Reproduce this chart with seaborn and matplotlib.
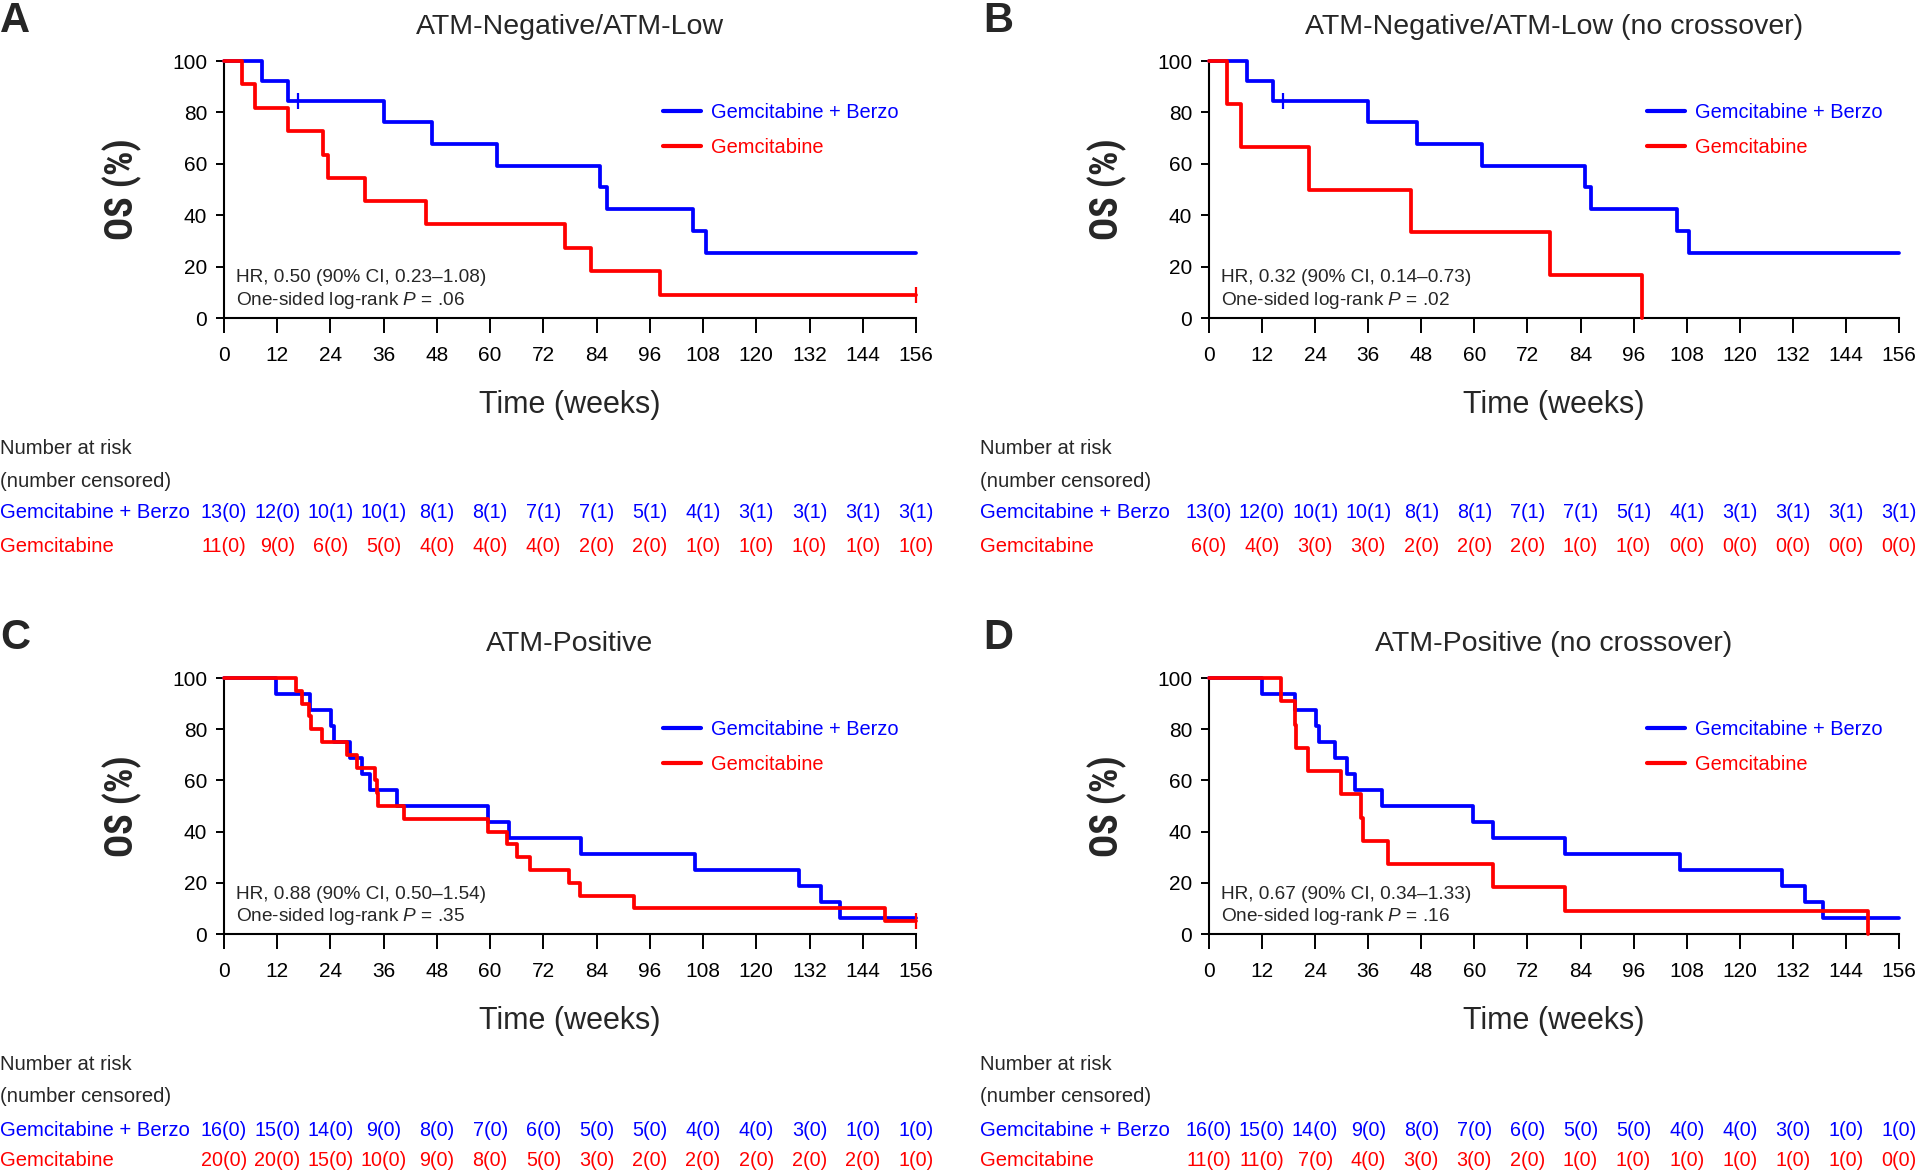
import numpy as np
import pandas as pd
import matplotlib
matplotlib.use("Agg")
import matplotlib.pyplot as plt
import matplotlib.transforms as mtransforms
from matplotlib import font_manager
import seaborn as sns

# ---------------- data ----------------
weeks = [0, 12, 24, 36, 48, 60, 72, 84, 96, 108, 120, 132, 144, 156]
arms = ["Gemcitabine + Berzo", "Gemcitabine"]

# Panel A: ATM-Negative/ATM-Low
A_berzo_t = [0, 8.6, 14.4, 36.0, 47.0, 61.5, 84.8, 86.4, 105.8, 108.6, 156]
A_berzo_s = [100, 92.3, 84.6, 76.2, 67.7, 59.3, 50.8, 42.3, 33.9, 25.4, 25.4]
A_gem_t = [0, 4.0, 6.9, 14.5, 22.4, 23.5, 31.7, 45.5, 76.9, 82.7, 98.2, 156]
A_gem_s = [100, 90.9, 81.8, 72.7, 63.6, 54.5, 45.5, 36.4, 27.3, 18.2, 9.1, 9.1]
A_berzo_cens_t = [16.6]
A_berzo_cens_s = [84.6]
A_gem_cens_t = [156]
A_gem_cens_s = [9.1]
A_risk_berzo = ["13(0)", "12(0)", "10(1)", "10(1)", "8(1)", "8(1)", "7(1)", "7(1)", "5(1)", "4(1)", "3(1)", "3(1)", "3(1)", "3(1)"]
A_risk_gem = ["11(0)", "9(0)", "6(0)", "5(0)", "4(0)", "4(0)", "4(0)", "2(0)", "2(0)", "1(0)", "1(0)", "1(0)", "1(0)", "1(0)"]

# Panel B: ATM-Negative/ATM-Low (no crossover)
B_berzo_t = [0, 8.6, 14.5, 36.0, 47.0, 61.7, 84.9, 86.4, 105.8, 108.6, 156]
B_berzo_s = [100, 92.3, 84.6, 76.2, 67.7, 59.3, 50.8, 42.3, 33.9, 25.4, 25.4]
B_gem_t = [0, 4.0, 7.2, 22.7, 45.6, 77.0, 98.0]
B_gem_s = [100, 83.3, 66.7, 50.0, 33.3, 16.7, 0]
B_berzo_cens_t = [16.7]
B_berzo_cens_s = [84.6]
B_risk_berzo = ["13(0)", "12(0)", "10(1)", "10(1)", "8(1)", "8(1)", "7(1)", "7(1)", "5(1)", "4(1)", "3(1)", "3(1)", "3(1)", "3(1)"]
B_risk_gem = ["6(0)", "4(0)", "3(0)", "3(0)", "2(0)", "2(0)", "2(0)", "1(0)", "1(0)", "0(0)", "0(0)", "0(0)", "0(0)", "0(0)"]

# Panel C: ATM-Positive
C_berzo_t = [0, 11.8, 19.4, 24.2, 24.8, 28.5, 31.1, 32.9, 39.0, 59.6, 64.2, 80.4, 106.2, 129.6, 134.6, 138.8, 156]
C_berzo_s = [100, 93.8, 87.5, 81.3, 75.0, 68.8, 62.5, 56.3, 50.0, 43.8, 37.5, 31.3, 25.0, 18.8, 12.5, 6.3, 6.3]
C_gem_t = [0, 16.2, 17.6, 19.2, 19.5, 22.0, 27.7, 29.9, 34.0, 34.4, 34.8, 40.5, 59.6, 63.9, 66.1, 68.9, 77.7, 80.2, 92.4, 149.1, 156]
C_gem_s = [100, 95, 90, 85, 80, 75, 70, 65, 60, 55, 50, 45, 40, 35, 30, 25, 20, 15, 10, 5, 5]
C_gem_cens_t = [156]
C_gem_cens_s = [5]
C_risk_berzo = ["16(0)", "15(0)", "14(0)", "9(0)", "8(0)", "7(0)", "6(0)", "5(0)", "5(0)", "4(0)", "4(0)", "3(0)", "1(0)", "1(0)"]
C_risk_gem = ["20(0)", "20(0)", "15(0)", "10(0)", "9(0)", "8(0)", "5(0)", "3(0)", "2(0)", "2(0)", "2(0)", "2(0)", "2(0)", "1(0)"]

# Panel D: ATM-Positive (no crossover)
D_berzo_t = [0, 11.9, 19.5, 24.3, 24.8, 28.4, 31.1, 33.1, 39.0, 59.6, 64.2, 80.5, 106.4, 129.6, 134.7, 138.8, 156]
D_berzo_s = [100, 93.8, 87.5, 81.3, 75.0, 68.8, 62.5, 56.3, 50.0, 43.8, 37.5, 31.3, 25.0, 18.8, 12.5, 6.3, 6.3]
D_gem_t = [0, 16.3, 19.4, 19.6, 22.3, 29.9, 34.4, 34.9, 40.4, 64.2, 80.4, 148.9]
D_gem_s = [100, 90.9, 81.8, 72.7, 63.6, 54.5, 45.5, 36.4, 27.3, 18.2, 9.1, 0]
D_risk_berzo = ["16(0)", "15(0)", "14(0)", "9(0)", "8(0)", "7(0)", "6(0)", "5(0)", "5(0)", "4(0)", "4(0)", "3(0)", "1(0)", "1(0)"]
D_risk_gem = ["11(0)", "11(0)", "7(0)", "4(0)", "3(0)", "3(0)", "2(0)", "1(0)", "1(0)", "1(0)", "1(0)", "1(0)", "1(0)", "0(0)"]

titles = ["ATM-Negative/ATM-Low", "ATM-Negative/ATM-Low (no crossover)",
          "ATM-Positive", "ATM-Positive (no crossover)"]
letters = ["A", "B", "C", "D"]
hr_texts = ["HR, 0.50 (90% CI, 0.23\u20131.08)", "HR, 0.32 (90% CI, 0.14\u20130.73)",
            "HR, 0.88 (90% CI, 0.50\u20131.54)", "HR, 0.67 (90% CI, 0.34\u20131.33)"]
p_values = [".06", ".02", ".35", ".16"]

# ---------------- style ----------------
BLUE = "#0000ff"
RED = "#ff0000"
palette = {arms[0]: BLUE, arms[1]: RED}

sns.set_style("ticks")
names = {f.name for f in font_manager.fontManager.ttflist}


def pick(cands, default):
    for c in cands:
        if c in names:
            return c
    return default


base = pick(["Liberation Sans", "Arimo"], "DejaVu Sans")
condf = pick(["Roboto Condensed", "Liberation Sans Narrow", "IBM Plex Sans Condensed"], base)
plt.rcParams['font.family'] = [base, 'DejaVu Sans']
plt.rcParams['mathtext.fontset'] = 'custom'
plt.rcParams['mathtext.rm'] = base
plt.rcParams['mathtext.it'] = base + ':italic'

W, H = 1920, 1171
fig = plt.figure(figsize=(W / 100, H / 100), dpi=100)


def fx(px):
    return px / W


def fy(py):
    return 1 - py / H


panels = [
    dict(t=(A_berzo_t, A_gem_t), s=(A_berzo_s, A_gem_s),
         cens=((A_berzo_cens_t, A_berzo_cens_s), (A_gem_cens_t, A_gem_cens_s)),
         risk=(A_risk_berzo, A_risk_gem), box=(224, 916, 61, 318), lx=0, rows=(448, 481, 513, 546),
         letter_xy=(0, 21)),
    dict(t=(B_berzo_t, B_gem_t), s=(B_berzo_s, B_gem_s),
         cens=((B_berzo_cens_t, B_berzo_cens_s), ([], [])),
         risk=(B_risk_berzo, B_risk_gem), box=(1209, 1899, 61, 318), lx=980, rows=(448, 481, 513, 546),
         letter_xy=(983, 21)),
    dict(t=(C_berzo_t, C_gem_t), s=(C_berzo_s, C_gem_s),
         cens=(([], []), (C_gem_cens_t, C_gem_cens_s)),
         risk=(C_risk_berzo, C_risk_gem), box=(224, 916, 678, 934), lx=0, rows=(1065, 1097, 1130, 1161),
         letter_xy=(0, 638)),
    dict(t=(D_berzo_t, D_gem_t), s=(D_berzo_s, D_gem_s),
         cens=(([], []), ([], [])),
         risk=(D_risk_berzo, D_risk_gem), box=(1209, 1899, 678, 934), lx=980, rows=(1065, 1097, 1130, 1161),
         letter_xy=(983, 638)),
]

FS_RISK = 14.6
FS_NUM = 14.2
FS_HR = 13.7
for i, p in enumerate(panels):
    l, r, t, b = p["box"]
    ax = fig.add_axes([fx(l), fy(b), (r - l) / W, (b - t) / H])
    frames = []
    for k, arm in enumerate(arms):
        frames.append(pd.DataFrame({"week": p["t"][k], "os": p["s"][k], "arm": arm}))
    df = pd.concat(frames, ignore_index=True)
    sns.lineplot(data=df, x="week", y="os", hue="arm", palette=palette, hue_order=arms,
                 estimator=None, sort=False, drawstyle="steps-post", linewidth=2.7,
                 ax=ax, clip_on=False, zorder=3)
    for k, arm in enumerate(arms):
        ct, cs = p["cens"][k]
        if len(ct):
            ax.plot(ct, cs, linestyle="none", marker="|", markersize=11, markeredgewidth=1.6,
                    color=palette[arm], clip_on=False, zorder=4)
    ax.set_xlim(0, 156)
    ax.set_ylim(0, 100)
    ax.set_xticks(weeks)
    ax.set_yticks([0, 20, 40, 60, 80, 100])
    sns.despine(ax=ax)
    for sp in ("left", "bottom"):
        ax.spines[sp].set_linewidth(1.5)
        ax.spines[sp].set_color("black")
    ax.tick_params(axis="x", direction="out", length=11, width=1.4, labelsize=15, pad=9, colors="black")
    ax.tick_params(axis="y", direction="out", length=6, width=1.4, labelsize=15, pad=6, colors="black")
    ax.set_xlabel("Time (weeks)", fontsize=22, va="center")
    ax.xaxis.set_label_coords(0.5, -0.34)
    ax.set_ylabel("OS (%)", fontsize=27.5, fontweight="bold", va="center", family=condf)
    ax.yaxis.set_label_coords(-0.147, 0.5)
    ax.text(0.5, 1.132, titles[i], transform=ax.transAxes, ha="center", va="center", fontsize=20.5)
    ax.text(0.017, 0.156, hr_texts[i], transform=ax.transAxes, ha="left", va="center", fontsize=FS_HR)
    ax.text(0.017, 0.07, "One-sided log-rank $\\it{P}$ = " + p_values[i], transform=ax.transAxes,
            ha="left", va="center", fontsize=FS_HR)
    handles, labels = ax.get_legend_handles_labels()
    ax.legend(handles[:2], labels[:2], loc="upper left", bbox_to_anchor=(0.635, 0.835), frameon=False,
              fontsize=14.4, handlelength=1.9, handletextpad=0.5, labelspacing=0.8,
              borderpad=0, borderaxespad=0, labelcolor="linecolor")
    for line in ax.get_legend().get_lines():
        line.set_linewidth(3)
    # letter
    lxp, lyp = p["letter_xy"]
    fig.text(fx(lxp), fy(lyp), letters[i], fontsize=30, fontweight="bold", ha="left", va="center")
    # risk table
    rows = p["rows"]
    fig.text(fx(p["lx"]), fy(rows[0]), "Number at risk", fontsize=FS_RISK, ha="left", va="center")
    fig.text(fx(p["lx"]), fy(rows[1]), "(number censored)", fontsize=FS_RISK, ha="left", va="center")
    trans = mtransforms.blended_transform_factory(ax.transData, fig.transFigure)
    for k, arm in enumerate(arms):
        ry = fy(rows[2 + k])
        fig.text(fx(p["lx"]), ry, arm, fontsize=FS_RISK, ha="left", va="center", color=palette[arm])
        for wk, val in zip(weeks, p["risk"][k]):
            ax.text(wk, ry, val, transform=trans, fontsize=FS_NUM, ha="center", va="center",
                    color=palette[arm], clip_on=False)

fig.savefig("out.png", dpi=100)
